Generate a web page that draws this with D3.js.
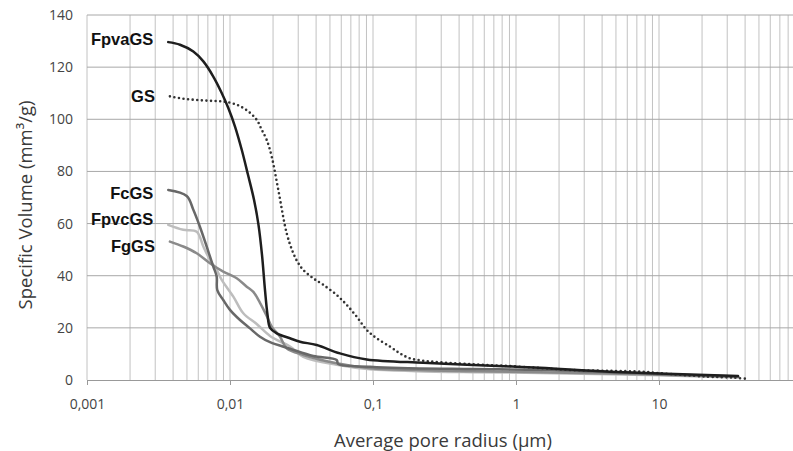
<!doctype html>
<html lang="en">
  <head>
    <meta charset="utf-8">
    <title>Specific volume vs pore radius</title>
    <script src="https://d3js.org/d3.v7.min.js"></script>
    <style>
    body { margin: 0; background: #fff; }
    text { font-family: "Open Sans", sans-serif; }
    .tick text { fill: #444; font-size: 14px; }
    .series-label { font-family: "Liberation Sans", Arial, sans-serif; font-weight: bold; font-size: 16.5px; fill: #111; }
    .axis-title { fill: #3a3a3a; font-size: 18.5px; }
    </style>
  </head>
  <body>
    <svg width="793" height="451"></svg>

    <script>
      // pore radius (µm) / specific volume (mm3/g)
      var fpvaRadius = [0.0037, 0.00447, 0.00554, 0.00651, 0.00764, 0.00875, 0.00973, 0.01084, 0.01208, 0.01336, 0.01472, 0.01582, 0.01674, 0.01757, 0.0183, 0.01905, 0.02122, 0.02628, 0.03087, 0.04039, 0.0587, 0.0904, 0.224, 0.5, 1.47, 4.54, 35.7];
      var fpvaVolume = [129.6, 128.6, 126.0, 122.2, 116.4, 110.1, 104.3, 97.2, 88.3, 78.7, 69.1, 59.5, 48.0, 34.5, 25.0, 20.0, 17.9, 16.0, 14.7, 13.4, 10.2, 7.9, 6.6, 5.8, 4.7, 3.2, 1.5];

      var gsRadius = [0.0038, 0.00471, 0.00585, 0.00724, 0.00897, 0.01114, 0.01343, 0.01537, 0.01666, 0.01805, 0.01957, 0.02177, 0.02491, 0.02772, 0.03003, 0.03255, 0.03824, 0.04493, 0.05573, 0.06548, 0.07691, 0.0904, 0.1061, 0.1315, 0.1545, 0.1814, 0.2247, 0.294, 0.503, 0.861, 1.47, 2.51, 4.54, 7.77, 10.2, 21.6, 33.1, 42.1];
      var gsVolume = [108.8, 107.9, 107.4, 107.1, 106.8, 105.6, 103.0, 99.8, 96.0, 92.1, 85.7, 72.9, 56.3, 48.6, 44.8, 42.2, 39.0, 36.5, 32.6, 28.8, 24.3, 19.2, 16.0, 12.8, 10.2, 8.3, 7.4, 6.8, 6.0, 5.4, 4.6, 3.8, 3.5, 3.2, 2.6, 1.3, 0.9, 0.4];

      var fcRadius = [0.0037, 0.00498, 0.00554, 0.00616, 0.00687, 0.00764, 0.00807, 0.00815, 0.00897, 0.01, 0.01175, 0.01381, 0.01621, 0.01905, 0.02628, 0.03824, 0.05573, 0.0571, 0.0953, 0.1545, 0.5, 1.47, 4.54, 10, 35.7];
      var fcVolume = [72.9, 70.6, 65.3, 58.8, 51.2, 43.5, 39.7, 34.5, 30.7, 26.9, 23.0, 19.8, 16.6, 14.5, 12.0, 9.2, 7.7, 6.1, 5.1, 4.6, 4.2, 3.9, 3.0, 2.3, 1.3];

      var fpvcRadius = [0.0037, 0.00471, 0.00585, 0.00651, 0.00724, 0.00807, 0.00875, 0.01055, 0.01239, 0.01537, 0.01905, 0.02628, 0.03255, 0.05573, 0.0953, 0.2, 0.5, 1.47, 4.54, 10, 35.7];
      var fpvcVolume = [59.5, 57.6, 56.9, 51.2, 46.1, 42.2, 38.4, 32.0, 25.6, 21.5, 16.9, 12.8, 8.9, 5.8, 4.1, 3.4, 3.0, 2.7, 2.2, 1.8, 1.0];

      var fgRadius = [0.0038, 0.00471, 0.00585, 0.00724, 0.00897, 0.01114, 0.01309, 0.01456, 0.01621, 0.01805, 0.01967, 0.02239, 0.02491, 0.03255, 0.05573, 0.0953, 0.2, 0.5, 1.47, 4.54, 10, 35.7];
      var fgVolume = [53.1, 51.2, 48.6, 44.8, 41.6, 39.0, 35.8, 33.8, 29.6, 24.6, 20.3, 16.6, 12.2, 9.6, 6.4, 4.5, 3.8, 3.4, 3.0, 2.5, 2.0, 1.2];

      var seriesNames = ['FpvaGS', 'GS', 'FcGS', 'FpvcGS', 'FgGS'];

      var xTickValues = [0.001, 0.01, 0.1, 1, 10];
      var xTickLabels = ['0,001', '0,01', '0,1', '1', '10'];
      var yTickValues = [0, 20, 40, 60, 80, 100, 120, 140];

      var svg = d3.select('svg');

      var xScale = d3.scaleLog().domain([0.001, 100]).range([87, 802]);
      var yScale = d3.scaleLinear().domain([0, 140]).range([380, 15]);

      // log grid: every 1..9 of each decade
      var minorValues = [];
      [0.001, 0.01, 0.1, 1, 10].forEach(function(d){
        for (var k = 1; k < 10; k++) minorValues.push(k * d);
      });

      svg.append('g').selectAll('line').data(minorValues)
        .enter().append('line')
          .attr('x1', function(d){ return xScale(d); })
          .attr('x2', function(d){ return xScale(d); })
          .attr('y1', yScale(140))
          .attr('y2', yScale(0))
          .attr('stroke', '#c2c2c2')
          .attr('stroke-width', 1);

      svg.append('g').selectAll('line').data(yTickValues.slice(1))
        .enter().append('line')
          .attr('x1', xScale(0.001))
          .attr('x2', xScale(100))
          .attr('y1', function(d){ return yScale(d); })
          .attr('y2', function(d){ return yScale(d); })
          .attr('stroke', '#a8a8a8')
          .attr('stroke-width', 1);

      // axes
      var xAxis = d3.axisBottom(xScale)
        .tickValues(xTickValues)
        .tickFormat(function(d, i){ return xTickLabels[i]; })
        .tickSizeInner(5)
        .tickSizeOuter(0)
        .tickPadding(14);

      var gx = svg.append('g')
        .attr('transform', 'translate(0,' + yScale(0) + ')')
        .call(xAxis);
      gx.select('.domain').attr('stroke', '#999');
      gx.selectAll('.tick line').attr('stroke', '#999');

      var yAxis = d3.axisLeft(yScale)
        .tickValues(yTickValues)
        .tickSize(0)
        .tickPadding(14);

      var gy = svg.append('g')
        .attr('transform', 'translate(' + xScale(0.001) + ',0)')
        .call(yAxis);
      gy.select('.domain').remove();

      // curves
      var series = [
        { name: seriesNames[0], r: fpvaRadius, v: fpvaVolume, color: '#1e1e1e', dash: null, dy: -3 },
        { name: seriesNames[1], r: gsRadius, v: gsVolume, color: '#333', dash: '0,4.6', dy: 0 },
        { name: seriesNames[2], r: fcRadius, v: fcVolume, color: '#686868', dash: null, dy: 3 },
        { name: seriesNames[3], r: fpvcRadius, v: fpvcVolume, color: '#bdbdbd', dash: null, dy: -6 },
        { name: seriesNames[4], r: fgRadius, v: fgVolume, color: '#8a8a8a', dash: null, dy: 5 }
      ];

      var line = d3.line()
        .x(function(d){ return xScale(d[0]); })
        .y(function(d){ return yScale(d[1]); })
        .curve(d3.curveCatmullRom.alpha(0.5));

      // draw lighter lines first so the dark ones stay on top
      [3, 4, 2, 1, 0].forEach(function(i){
        var s = series[i];
        var pts = d3.zip(s.r, s.v);
        var path = svg.append('path')
          .datum(pts)
          .attr('d', line)
          .attr('fill', 'none')
          .attr('stroke', s.color)
          .attr('stroke-width', s.dash ? 2.6 : 2.5)
          .attr('stroke-linecap', 'round')
          .attr('stroke-linejoin', 'round');
        if (s.dash) path.attr('stroke-dasharray', s.dash);
      });

      svg.append('g').selectAll('text').data(series)
        .enter().append('text')
          .attr('class', 'series-label')
          .attr('x', function(d){ return xScale(d.r[0]) - 15; })
          .attr('y', function(d){ return yScale(d.v[0]) + d.dy; })
          .attr('dy', '0.35em')
          .attr('text-anchor', 'end')
          .text(function(d){ return d.name; });

      // axis titles
      svg.append('text')
        .attr('class', 'axis-title')
        .attr('x', 443)
        .attr('y', 447)
        .attr('text-anchor', 'middle')
        .text('Average pore radius (µm)');

      svg.append('text')
        .attr('class', 'axis-title')
        .attr('transform', 'translate(32,205) rotate(-90)')
        .attr('text-anchor', 'middle')
        .text('Specific Volume (mm³/g)');
    </script>
  </body>
</html>
